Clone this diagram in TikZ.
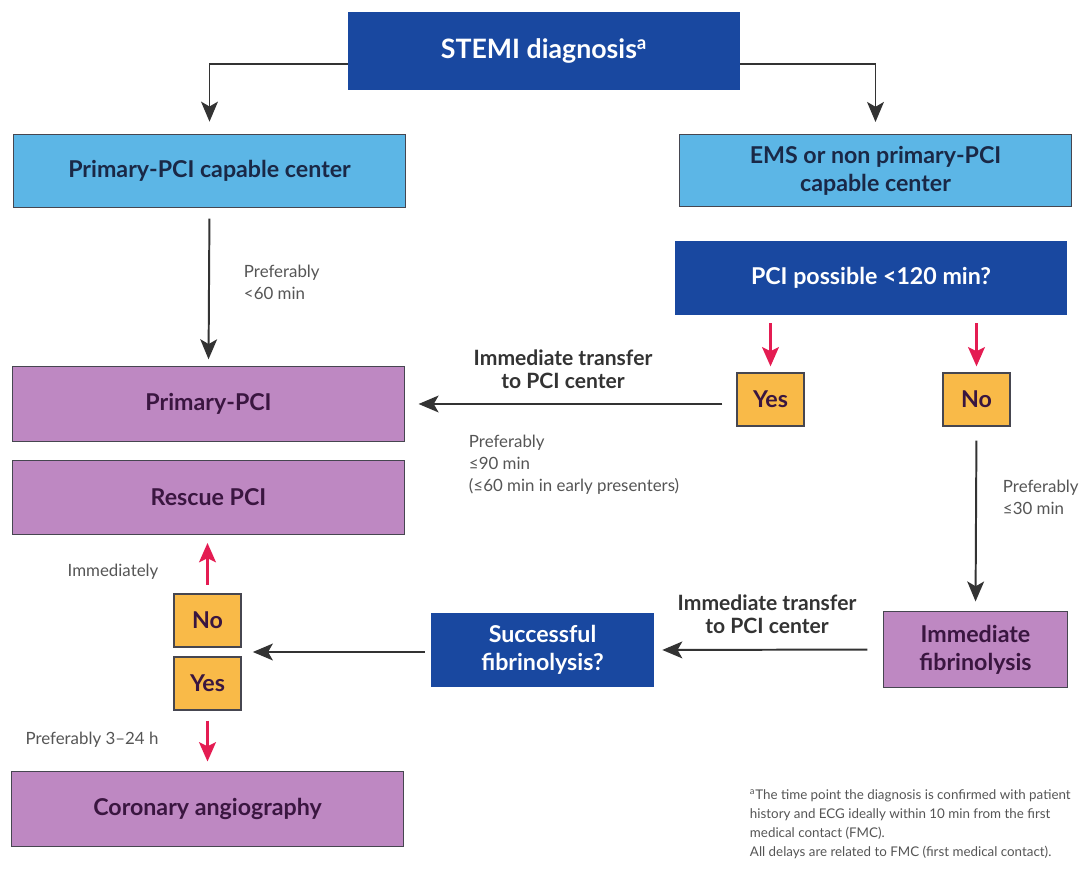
\documentclass[tikz,border=0pt]{standalone}
\usepackage{fontspec}
\setmainfont{Lato}
\usetikzlibrary{arrows.meta,calc}
\definecolor{stemiblue}{RGB}{25,72,160}
\definecolor{skyblue}{RGB}{92,182,230}
\definecolor{mauve}{RGB}{190,136,194}
\definecolor{amber}{RGB}{249,186,72}
\definecolor{alarm}{RGB}{228,28,82}
\definecolor{navytext}{RGB}{26,40,70}
\definecolor{plumtext}{RGB}{58,22,64}
\definecolor{greytext}{RGB}{85,85,85}
\definecolor{edge}{RGB}{70,70,80}
\begin{document}
\begin{tikzpicture}[x=0.025cm,y=-0.025cm,
  box/.style={inner sep=0pt, align=center, font=\bfseries\fontsize{16.5}{20}\selectfont},
  askbox/.style={box, fill=stemiblue, text=white},
  sitebox/.style={box, draw=edge, line width=0.7pt, fill=skyblue, text=navytext, minimum width=9.775cm, minimum height=1.8cm},
  actbox/.style={box, draw=edge, line width=0.7pt, fill=mauve, text=plumtext, minimum height=1.85cm},
  ansbox/.style={box, draw=edge, line width=0.9pt, fill=amber, text=plumtext, minimum width=1.675cm, minimum height=1.325cm},
  note/.style={text=greytext, align=left, font=\fontsize{12}{15.5}\selectfont},
  boldnote/.style={text=black!80, align=center, font=\bfseries\fontsize{15}{16.5}\selectfont},
  blk/.style={draw=black!80, line width=1.4pt, -{Stealth[length=0.5cm,width=0.42cm,inset=0.12cm]}},
  red/.style={draw=alarm, line width=1.7pt, -{Stealth[length=0.48cm,width=0.42cm,inset=0.1cm]}}]
\useasboundingbox (0,0) rectangle (1080,872);
\node[askbox, minimum width=9.8cm, minimum height=1.95cm, font=\bfseries\fontsize{19}{22}\selectfont] (stemi) at (544,51) {STEMI diagnosis\textsuperscript{a}};
\node[sitebox] (capable) at (209.5,171) {Primary-PCI capable center};
\node[sitebox] (ems) at (875.5,170.5) {EMS or non primary-PCI\\capable center};
\node[askbox, minimum width=9.8cm, minimum height=1.85cm] (possible) at (871,278) {PCI possible <120 min?};
\node[ansbox] (yesa) at (770.5,399.5) {Yes};
\node[ansbox] (noa) at (976.5,399.5) {No};
\node[actbox, minimum width=9.775cm] (ppci) at (208.5,404) {Primary-PCI};
\node[actbox, minimum width=9.775cm] (rescue) at (208.5,497.5) {Rescue PCI};
\node[ansbox] (nob) at (207.5,620.5) {No};
\node[ansbox] (yesb) at (207.5,683.5) {Yes};
\node[askbox, minimum width=5.575cm, minimum height=1.85cm] (success) at (542.5,650) {Successful\\fibrinolysis?};
\node[actbox, minimum width=4.575cm, minimum height=1.875cm] (fibrin) at (975.5,649.5) {Immediate\\fibrinolysis};
\node[actbox, minimum width=9.775cm] (coro) at (207.5,809) {Coronary angiography};
\coordinate (split) at ($(nob.south east)!0.5!(yesb.north east)$);

\node[note, anchor=west] (t60) at (239,282) {Preferably\\<60 min};
\node[boldnote] (tr1) at (563,369) {Immediate transfer\\to PCI center};
\node[note, anchor=west] (t90) at (464,465) {Preferably\\≤90 min\\(≤60 min in early presenters)};
\node[note, anchor=west] (t30) at (998,497.5) {Preferably\\≤30 min};
\node[boldnote] (tr2) at (767,614) {Immediate transfer\\to PCI center};
\node[note] (tnow) at (113,572) {Immediately};
\node[note] (t324) at (92,740) {Preferably 3–24 h};
\node[note, anchor=west, font=\fontsize{9.5}{13.5}\selectfont] (foot) at (745,824) {\textsuperscript{a}The time point the diagnosis is confirmed with patient\\history and ECG ideally within 10 min from the first\\medical contact (FMC).\\All delays are related to FMC (first medical contact).};

\draw[blk, shorten >=0.32cm] ([yshift=-9]stemi.west) -| (capable.north);
\draw[blk, shorten >=0.3cm] ([yshift=-9]stemi.east) -| (ems.north);
\draw[blk, shorten <=0.28cm, shorten >=0.18cm] (capable.south) -- (ppci.north);
\draw[red, shorten <=0.2cm, shorten >=0.15cm] (possible.south -| yesa) -- (yesa.north);
\draw[red, shorten <=0.2cm, shorten >=0.15cm] (possible.south -| noa) -- (noa.north);
\draw[blk, shorten <=0.35cm, shorten >=0.35cm] (yesa.west |- ppci.east) -- (ppci.east);
\draw[blk, shorten <=0.35cm, shorten >=0.25cm] (noa.south) -- (fibrin.north);
\draw[blk, shorten <=0.4cm, shorten >=0.2cm] (fibrin.west) -- (success.east);
\draw[blk, shorten <=0.15cm, shorten >=0.28cm] (success.west |- split) -- (split);
\draw[red, shorten <=0.22cm, shorten >=0.2cm] (nob.north) -- (rescue.south -| nob);
\draw[red, shorten <=0.25cm, shorten >=0.25cm] (yesb.south) -- (coro.north -| yesb);
\end{tikzpicture}
\end{document}
